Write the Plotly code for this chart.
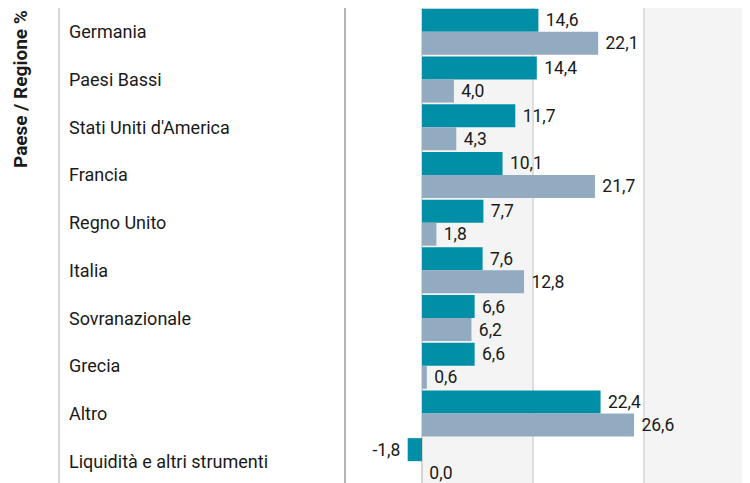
import plotly.graph_objects as go

categories = ["Germania", "Paesi Bassi", "Stati Uniti d'America", "Francia", "Regno Unito",
              "Italia", "Sovranazionale", "Grecia", "Altro", "Liquidità e altri strumenti"]
fund_values = [14.6, 14.4, 11.7, 10.1, 7.7, 7.6, 6.6, 6.6, 22.4, -1.8]
bench_values = [22.1, 4.0, 4.3, 21.7, 1.8, 12.8, 6.2, 0.6, 26.6, 0.0]
grid_ticks = [0, 13.9, 27.8]

FONT = "Roboto"
TEXT = "#1a1a1a"

def fmt(v):
    s = f"{v:.1f}".replace(".", ",")
    return s + " " if v < 0 else " " + s

fig = go.Figure()
fig.add_trace(go.Bar(
    y=categories, x=fund_values, orientation="h", name="Fondo",
    marker=dict(color="#008fa6", line=dict(width=0)),
    text=[fmt(v) for v in fund_values], textposition="outside",
    textfont=dict(family=FONT, size=17.5, color=TEXT), cliponaxis=False,
))
fig.add_trace(go.Bar(
    y=categories, x=bench_values, orientation="h", name="Indice",
    marker=dict(color="#93abc0", line=dict(width=0)),
    text=[fmt(v) for v in bench_values], textposition="outside",
    textfont=dict(family=FONT, size=17.5, color=TEXT), cliponaxis=False,
))

xmin, xmax = -9.54, 41.15
shapes = [
    dict(type="rect", xref="x", yref="paper", x0=grid_ticks[0], x1=grid_ticks[1], y0=0, y1=1,
         fillcolor="#f4f4f4", line=dict(width=0), layer="below"),
    dict(type="rect", xref="x", yref="paper", x0=grid_ticks[2], x1=xmax, y0=0, y1=1,
         fillcolor="#f4f4f4", line=dict(width=0), layer="below"),
    dict(type="line", xref="paper", yref="paper", x0=-0.7104, x1=-0.7104, y0=0, y1=1,
         line=dict(color="#d6d6d6", width=2)),
]

annotations = [
    dict(text=c, x=-0.6906, xref="paper", y=c, yref="y", xanchor="left", yanchor="middle",
         showarrow=False, font=dict(family=FONT, size=18, color=TEXT))
    for c in categories
]
annotations.append(dict(text="<b>Paese / Regione %</b>", textangle=-90, x=-0.807, xref="paper",
                        y=1, yref="paper", xanchor="center", yanchor="top", showarrow=False,
                        font=dict(family=FONT, size=19, color=TEXT)))

fig.update_layout(
    width=742, height=477,
    margin=dict(l=338, r=0, t=0, b=0, pad=0),
    barmode="group", bargap=0.035, bargroupgap=0,
    plot_bgcolor="white", paper_bgcolor="white",
    showlegend=False,
    shapes=shapes, annotations=annotations,
    font=dict(family=FONT, color=TEXT),
    xaxis=dict(range=[xmin, xmax], tickvals=grid_ticks, showticklabels=False,
               showgrid=True, gridcolor="#dedede", gridwidth=2,
               zeroline=True, zerolinecolor="#d6d6d6", zerolinewidth=2, fixedrange=True),
    yaxis=dict(autorange="reversed", showticklabels=False, showgrid=False,
               showline=True, linecolor="#b5b5b5", linewidth=2, ticks="", fixedrange=True),
)

fig.write_html("out.html")
